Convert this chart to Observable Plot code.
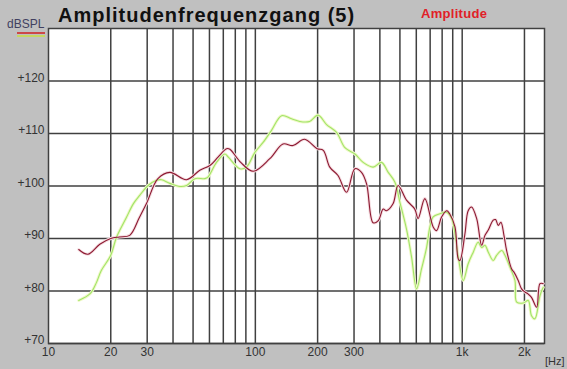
<!DOCTYPE html>
<html><head><meta charset="utf-8">
<script src="https://cdn.jsdelivr.net/npm/d3@7"></script>
<script src="https://cdn.jsdelivr.net/npm/@observablehq/plot@0.6"></script>
<style>
html,body{margin:0;padding:0;background:#c0c0c0;}
#wrap{position:relative;width:567px;height:369px;overflow:hidden;}
#wrap svg{position:absolute;left:0;top:0;background:transparent;overflow:visible}
</style></head><body>
<div id="wrap"></div>
<script>
// ---- data ----
const redFreq = [14.0,15.5,17.7,20,22,24.7,27.5,29.8,33.8,38.6,46.5,53.9,60.3,66,72.6,75.3,85,97.6,117.5,136,152,173,199,213,229,251,276,303,326,345,371,393,415,430,463,490,538,590,612,660,724,752,795,841,870,923,957,975,1031,1069,1110,1175,1242,1289,1337,1413,1450,1494,1539,1592,1640,1734,1780,1866,1937,2011,2086,2163,2291,2377,2466];
const redDb   = [87.9,87.0,88.9,90.0,90.3,90.6,94.0,96.7,101.4,102.6,101.2,103.0,103.9,105.5,107.1,107.0,104.5,102.8,105.2,108.0,107.7,108.9,107.1,106.8,103.6,102.0,98.8,103.3,102.6,100.4,93.0,93.4,95.6,95.3,96.6,100.1,97.3,95.6,93.8,97.6,92.2,91.5,94.1,95.3,94.7,92.2,86.1,85.8,90.9,95.3,96.0,93.8,88.7,90.6,91.6,93.5,93.6,92.5,93.1,90.6,87.7,84.2,83.6,82.0,80.4,79.8,79.4,78.8,76.9,81.4,81.4];
const greenFreq = [14.0,15.9,17,18,20,21.3,23.8,25.7,27.6,30.3,33.3,35.2,38.6,43.2,46.5,51,57,59,64.9,71.2,74,84.1,90.6,99.5,109,119.7,134,149.6,164,183,201,221,247,271,303,332,371,407,439,473,500,538,569,602,636,673,698,724,780,841,889,923,957,1012,1069,1131,1194,1242,1289,1337,1413,1467,1556,1610,1703,1800,1834,1974,2086,2163,2247,2377,2466];
const greenDb   = [78.2,79.5,81.5,83.9,86.8,90.2,94.0,96.6,98.2,100.1,101.1,101.2,100.5,99.9,100.1,101.4,101.4,101.7,104.5,106.1,105.5,103.3,103.6,106.4,108.3,110.6,113.4,112.8,112.3,112.3,113.5,111.7,110.2,107.3,106.1,104.5,103.6,104.5,102.6,100.7,96.9,91.8,86.5,80.4,84.2,88.3,92.2,94.1,94.7,95.0,93.8,90.9,86.5,82.0,85.2,87.4,89.3,88.3,88.7,87.4,85.8,86.8,87.7,86.8,84.5,82.0,77.9,77.7,78.2,75.3,74.7,79.1,80.7];
const xGrid = [20,30,40,50,60,70,80,90,100,200,300,400,500,600,700,800,900,1000,2000];
const xTicks = [10,20,30,100,200,300,1000,2000];
const xTickLabels = ["10","20","30","100","200","300","1k","2k"];
const yTicks = [70,80,90,100,110,120];
const title = "Amplitudenfrequenzgang (5)";
const seriesName = "Amplitude";
const yUnit = "dBSPL";
const xUnit = "[Hz]";

const red = redFreq.map((f,i)=>({f, v:redDb[i]}));
const green = greenFreq.map((f,i)=>({f, v:greenDb[i]}));
const gridCol = "#404040";

const chart = Plot.plot({
  width: 567, height: 369,
  marginLeft: 48, marginRight: 23, marginTop: 28, marginBottom: 26,
  style: {background: "transparent", fontFamily: "'Liberation Sans', Arial, sans-serif"},
  x: {type: "log", domain: [10, 2500]},
  y: {domain: [70, 130]},
  marks: [
    Plot.frame({fill: "white"}),
    Plot.ruleX(xGrid, {stroke: gridCol, strokeWidth: 1.5}),
    Plot.ruleY(yTicks, {stroke: gridCol, strokeWidth: 1.5}),
    Plot.frame({stroke: gridCol, strokeWidth: 1.5}),
    Plot.axisY(yTicks, {tickSize: 0, tickPadding: 4, dy: -3, fontSize: 12, fill: "#333", tickFormat: d => "+" + d, label: null}),
    Plot.axisX(xTicks, {tickSize: 0, tickPadding: 4, fontSize: 12, fill: "#333", tickFormat: d => xTickLabels[xTicks.indexOf(d)], label: null}),
    Plot.line(green, {x: "f", y: "v", stroke: "#f0f8c8", strokeWidth: 3, curve: "catmull-rom"}),
    Plot.line(red, {x: "f", y: "v", stroke: "#f4dce0", strokeWidth: 3, curve: "catmull-rom"}),
    Plot.line(green, {x: "f", y: "v", stroke: "#a0e468", strokeWidth: 1.1, curve: "catmull-rom"}),
    Plot.line(red, {x: "f", y: "v", stroke: "#8c1830", strokeWidth: 1.1, curve: "catmull-rom"})
  ]
});
document.getElementById("wrap").appendChild(chart);

const svg = d3.select(chart);
const g = svg.append("g").attr("font-family", "'Liberation Sans', Arial, sans-serif").attr("text-anchor", "start");
g.append("text").attr("x", 58).attr("y", 22).attr("font-size", 20).attr("font-weight", "bold").attr("letter-spacing", 1).attr("fill", "#111").text(title);
g.append("text").attr("x", 421).attr("y", 18).attr("font-size", 13).attr("font-weight", "bold").attr("letter-spacing", 0.3).attr("fill", "#e02028").text(seriesName);
g.append("text").attr("x", 7).attr("y", 28).attr("font-size", 12).attr("fill", "#404060").text(yUnit);
g.append("text").attr("x", 545).attr("y", 365).attr("font-size", 11).attr("fill", "#333").text(xUnit);
g.append("line").attr("x1", 17).attr("x2", 45).attr("y1", 33).attr("y2", 33).attr("stroke", "#d02020").attr("stroke-width", 1.5);
g.append("line").attr("x1", 17).attr("x2", 45).attr("y1", 36).attr("y2", 36).attr("stroke", "#c8e040").attr("stroke-width", 1.5);
</script>
</body></html>
